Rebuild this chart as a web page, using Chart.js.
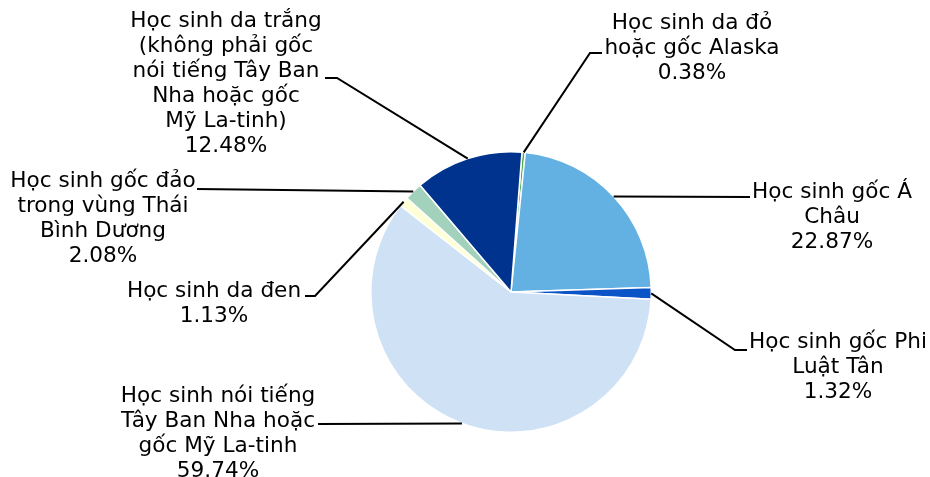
<!DOCTYPE html>
<html>
<head>
<meta charset="utf-8">
<script src="https://cdn.jsdelivr.net/npm/chart.js@4"></script>
<style>
    html, body { margin: 0; padding: 0; background: #fff; }
    #wrap { width: 930px; height: 477px; }
</style>
</head>
<body>
<div id="wrap"><canvas id="chartHocSinh"></canvas></div>
<script>
// Du lieu bieu do
const labels = [
    ['Học sinh da đỏ', 'hoặc gốc Alaska'],
    ['Học sinh gốc Á', 'Châu'],
    ['Học sinh gốc Phi', 'Luật Tân'],
    ['Học sinh nói tiếng', 'Tây Ban Nha hoặc', 'gốc Mỹ La-tinh'],
    ['Học sinh da đen'],
    ['Học sinh gốc đảo', 'trong vùng Thái', 'Bình Dương'],
    ['Học sinh da trắng', '(không phải gốc', 'nói tiếng Tây Ban', 'Nha hoặc gốc', 'Mỹ La-tinh)']
];
const percents = [0.38, 22.87, 1.32, 59.74, 1.13, 2.08, 12.48];
const colors = ['#4caf50', '#63b0e3', '#0b54c8', '#cfe2f5', '#ffffd5', '#a2d2bc', '#00338e'];

// Vi tri nhan: tam chu (x), baseline dong dau (y), diem gap va diem cuoi duong dan
const labelPos = [
    { x: 692, y: 29, pts: [[590, 53], [602, 53]] },
    { x: 832, y: 198, pts: [[750, 197]] },
    { x: 838, y: 348, pts: [[735, 350], [747, 350]] },
    { x: 218, y: 402, pts: [[318, 424]] },
    { x: 214, y: 297, pts: [[315, 296], [305, 296]] },
    { x: 103, y: 187, pts: [[197, 189]] },
    { x: 226, y: 27, pts: [[337, 78], [325, 78]] }
];

const calloutPlugin = {
    id: 'callouts',
    afterDatasetsDraw(chart) {
        const ctx = chart.ctx;
        const meta = chart.getDatasetMeta(0);
        ctx.save();
        meta.data.forEach(function(arc, i) {
            const p = arc.getProps(['x', 'y', 'startAngle', 'endAngle', 'outerRadius'], true);
            const mid = (p.startAngle + p.endAngle) / 2;
            const ax = p.x + Math.cos(mid) * p.outerRadius;
            const ay = p.y + Math.sin(mid) * p.outerRadius;
            const pos = labelPos[i];

            ctx.strokeStyle = '#000';
            ctx.lineWidth = 2;
            ctx.beginPath();
            ctx.moveTo(ax, ay);
            pos.pts.forEach(function(pt) { ctx.lineTo(pt[0], pt[1]); });
            ctx.stroke();

            const lines = labels[i].concat([percents[i].toFixed(2) + '%']);
            ctx.fillStyle = '#000';
            ctx.font = '21.6px "DejaVu Sans"';
            ctx.textAlign = 'center';
            ctx.textBaseline = 'alphabetic';
            lines.forEach(function(t, k) {
                ctx.fillText(t, pos.x, pos.y + k * 25);
            });
        });
        ctx.restore();
    }
};

new Chart(document.getElementById('chartHocSinh').getContext('2d'), {
    type: 'pie',
    data: {
        labels: labels.map(function(l) { return l.join(' '); }),
        datasets: [{
            data: percents,
            backgroundColor: colors,
            borderColor: '#fff',
            borderWidth: 1.5
        }]
    },
    options: {
        responsive: true,
        maintainAspectRatio: false,
        animation: false,
        rotation: 4.5,
        layout: {
            padding: { left: 370, right: 278, top: 151, bottom: 44 }
        },
        plugins: {
            legend: { display: false },
            tooltip: { enabled: false }
        }
    },
    plugins: [calloutPlugin]
});
</script>
</body>
</html>
